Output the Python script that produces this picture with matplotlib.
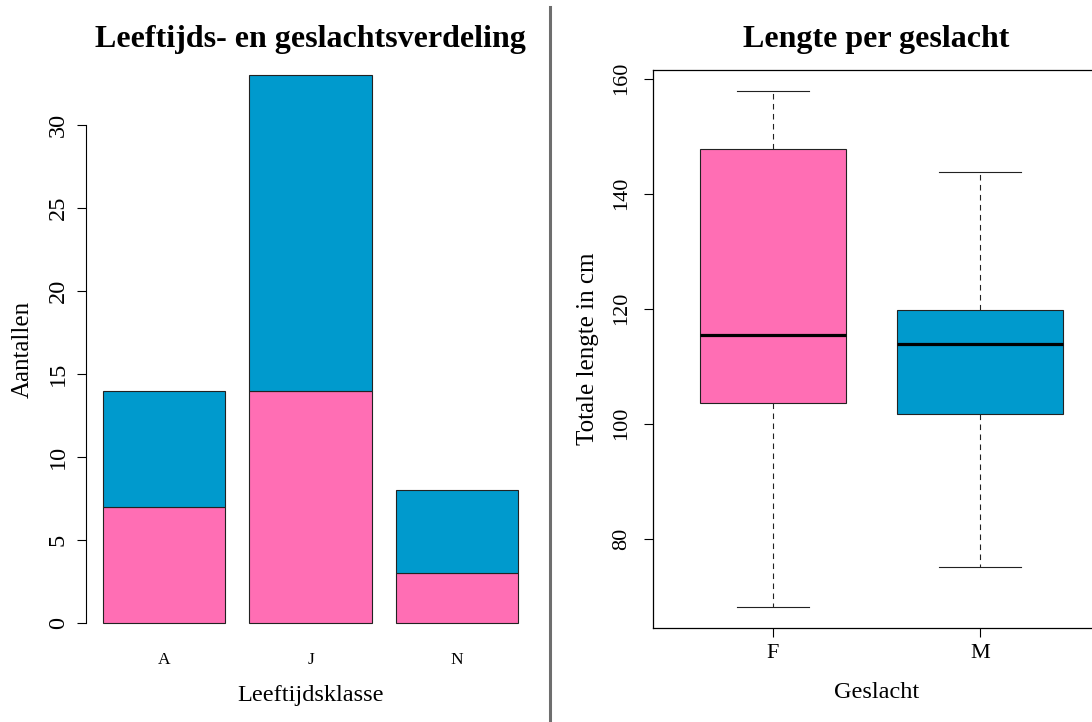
import numpy as np
import matplotlib.pyplot as plt
from matplotlib.lines import Line2D

# left panel: counts per age class, split by sex
classes = ["A", "J", "N"]
female = [7, 14, 3]
male = [7, 19, 5]

# right panel: box statistics of total length (cm)
sexes = ["F", "M"]
f_stats = [68.1, 103.6, 115.5, 147.8, 157.9]   # whislo, q1, med, q3, whishi
m_stats = [75.1, 101.7, 113.9, 119.8, 143.8]

PINK = "#FF6EB4"
BLUE = "#009ACD"

plt.rcParams["font.family"] = ["Liberation Serif", "DejaVu Serif"]

W, H = 1092, 722
fig = plt.figure(figsize=(W / 100, H / 100), dpi=100)

# ---------- left: stacked bars ----------
ax1 = fig.add_axes([86 / W, 1 - 645 / H, 449 / W, 592 / H])
x = 0.7 + 1.2 * np.arange(len(classes))
ax1.bar(x, female, width=1, color=PINK, edgecolor="#222222", linewidth=0.8)
ax1.bar(x, male, bottom=female, width=1, color=BLUE, edgecolor="#222222", linewidth=0.8)
tot = np.array(female) + np.array(male)
ax1.set_xlim(0.2 - 0.136, 3.6 + 0.136)
ax1.set_ylim(-0.04 * tot.max(), tot.max() * 1.04)
for s in ["top", "right", "bottom"]:
    ax1.spines[s].set_visible(False)
ax1.spines["left"].set_bounds(0, 30)
ax1.set_yticks(range(0, 31, 5))
ax1.set_xticks(x)
ax1.set_xticklabels(classes, fontsize=12.5)
ax1.tick_params(axis="x", length=0, pad=5)
ax1.tick_params(axis="y", length=6.5, width=0.8, pad=6, labelsize=17.5, labelrotation=90)
for lab in ax1.get_yticklabels():
    lab.set_va("center")
ax1.set_ylabel("Aantallen", fontsize=18)
ax1.yaxis.set_label_coords((23 - 86) / 449, 0.5)
ax1.yaxis.label.set_va("center")
ax1.set_xlabel("Leeftijdsklasse", fontsize=17.5)
ax1.xaxis.set_label_coords(0.5, -(695 - 645) / 592)
ax1.xaxis.label.set_va("center")

# ---------- right: box plots ----------
ax2 = fig.add_axes([653 / W, 1 - 628 / H, 447 / W, 558 / H])
n = np.array([sum(female), sum(male)])
widths = 0.8 * np.sqrt(n / n.max())
stats = []
for lab, s in zip(sexes, [f_stats, m_stats]):
    stats.append(dict(label=lab, whislo=s[0], q1=s[1], med=s[2], q3=s[3], whishi=s[4]))
bp = ax2.bxp(stats, positions=[1, 2], widths=widths, patch_artist=True, showfliers=False,
             boxprops=dict(edgecolor="#222222", linewidth=0.8),
             whiskerprops=dict(color="#222222", linewidth=0.8, linestyle=(0, (5, 4))),
             capprops=dict(color="#222222", linewidth=0.8),
             medianprops=dict(color="black", linewidth=2.3))
for patch, col in zip(bp["boxes"], [PINK, BLUE]):
    patch.set_facecolor(col)
lo = min(f_stats[0], m_stats[0])
hi = max(f_stats[-1], m_stats[-1])
ax2.set_ylim(lo - 0.04 * (hi - lo), hi + 0.04 * (hi - lo))
ax2.set_xlim(0.42, 2.58)
ax2.set_yticks([80, 100, 120, 140, 160])
for sp in ax2.spines.values():
    sp.set_linewidth(0.9)
ax2.tick_params(axis="y", length=6.5, width=0.8, pad=9, labelsize=16, labelrotation=90)
ax2.tick_params(axis="x", length=6.5, width=0.8, pad=5, labelsize=16)
for lab in ax2.get_yticklabels():
    lab.set_va("center")
ax2.set_ylabel("Totale lengte in cm", fontsize=18)
ax2.yaxis.set_label_coords((588 - 653) / 447, 0.5)
ax2.yaxis.label.set_va("center")
ax2.set_xlabel("Geslacht", fontsize=17.5)
ax2.xaxis.set_label_coords(0.5, -(692 - 628) / 558)
ax2.xaxis.label.set_va("center")

# titles
fig.text(310.5 / W, 1 - 40 / H, "Leeftijds- en geslachtsverdeling", fontsize=23,
         fontweight="bold", ha="center", va="center")
fig.text(876.5 / W, 1 - 39 / H, "Lengte per geslacht", fontsize=23,
         fontweight="bold", ha="center", va="center")

# grey divider between the two panels
fig.add_artist(Line2D([550 / W, 550 / W], [0, 1 - 7 / H], transform=fig.transFigure,
                      color="#6e6e6e", linewidth=2.2))

fig.savefig("out.png", dpi=100)
